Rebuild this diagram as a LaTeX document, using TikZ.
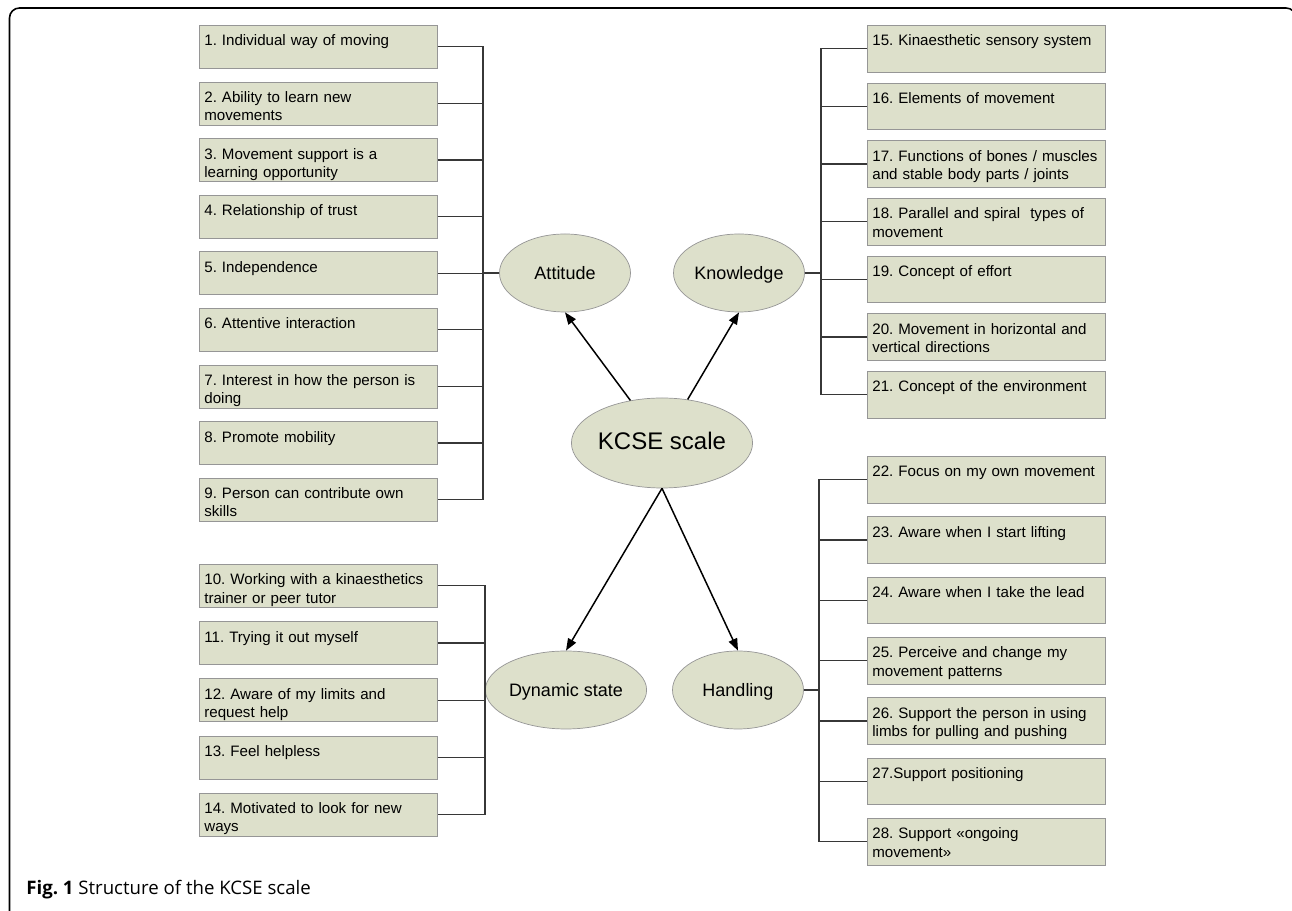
\documentclass[tikz,border=0pt]{standalone}
\usepackage{fontspec}
\setmainfont{Liberation Sans}
\newfontfamily\capfont{Open Sans}
\usetikzlibrary{shapes, arrows.meta, positioning}
\definecolor{boxfill}{RGB}{221, 224, 203}
\definecolor{boxedge}{RGB}{150, 150, 150}
\definecolor{linkgray}{RGB}{55, 55, 55}
\frenchspacing
\hyphenpenalty=10000

\begin{document}
\begin{tikzpicture}[
    item/.style={draw=boxedge, fill=boxfill, anchor=north west,
        text width=4.56cm, align=left, inner xsep=0.1cm, inner ysep=0pt,
        text height=0.41cm, text depth=0.45cm,
        font=\fontsize{8.6}{10.4}\selectfont},
    tallitem/.style={item, text depth=0.525cm},
    group/.style={ellipse, draw=boxedge, fill=boxfill,
        minimum width=2.62cm, minimum height=1.56cm, inner sep=0pt,
        text height=1.6ex, text depth=0.3ex,
        font=\fontsize{10.24}{12}\selectfont},
    link/.style={draw=linkgray, line width=0.7pt},
    >={Triangle[length=0.24cm, width=0.18cm]}
]
    \useasboundingbox (0,0) rectangle (25.84,18.22);
    \clip (0,0) rectangle (25.84,18.22);
    \draw[line width=0.9pt, rounded corners=0.2cm] (0.19,-0.2) rectangle (25.92,18.06);

    % attitude
    \node[item] (b1) at (3.98,17.72) {1. Individual way of moving};
    \node[item] (b2) at (3.98,16.588) {2. Ability to learn new\\movements};
    \node[item] (b3) at (3.98,15.456) {3. Movement support is a\\learning opportunity};
    \node[item] (b4) at (3.98,14.324) {4. Relationship of trust};
    \node[item] (b5) at (3.98,13.192) {5. Independence};
    \node[item] (b6) at (3.98,12.06) {6. Attentive interaction};
    \node[item] (b7) at (3.98,10.928) {7. Interest in how the person is\\doing};
    \node[item] (b8) at (3.98,9.796) {8. Promote mobility};
    \node[item] (b9) at (3.98,8.664) {9. Person can contribute own\\skills};

    % dynamic state
    \node[item] (b10) at (3.98,6.94) {10. Working with a kinaesthetics\\trainer or peer tutor};
    \node[item] (b11) at (3.98,5.796) {11. Trying it out myself};
    \node[item] (b12) at (3.98,4.652) {12. Aware of my limits and\\request help};
    \node[item] (b13) at (3.98,3.508) {13. Feel helpless};
    \node[item] (b14) at (3.98,2.364) {14. Motivated to look for new\\ways};

    % knowledge
    \node[tallitem] (b15) at (17.34,17.72) {15. Kinaesthetic sensory system};
    \node[tallitem] (b16) at (17.34,16.566) {16. Elements of movement};
    \node[tallitem] (b17) at (17.34,15.414) {17. Functions of bones / muscles\\and stable body parts / joints};
    \node[tallitem] (b18) at (17.34,14.26) {18. Parallel and spiral\ \ types of\\movement};
    \node[tallitem] (b19) at (17.34,13.106) {19. Concept of effort};
    \node[tallitem] (b20) at (17.34,11.954) {20. Movement in horizontal and\\vertical directions};
    \node[tallitem] (b21) at (17.34,10.8) {21. Concept of the environment};

    % handling
    \node[tallitem] (b22) at (17.34,9.1) {22. Focus on my own movement};
    \node[tallitem] (b23) at (17.34,7.894) {23. Aware when I start lifting};
    \node[tallitem] (b24) at (17.34,6.686) {24. Aware when I take the lead};
    \node[tallitem] (b25) at (17.34,5.48) {25. Perceive and change my\\movement patterns};
    \node[tallitem] (b26) at (17.34,4.274) {26. Support the person in using\\limbs for pulling and pushing};
    \node[tallitem] (b27) at (17.34,3.066) {27.Support positioning};
    \node[tallitem] (b28) at (17.34,1.86) {28. Support «ongoing\\movement»};

    \node[group] (att) at (11.3,12.76) {Attitude};
    \node[group] (know) at (14.78,12.76) {Knowledge};
    \node[group] (dyn) at (11.32,4.42) {Dynamic state};
    \node[group] (hand) at (14.76,4.42) {Handling};
    \node[group, minimum width=3.02cm, minimum height=1.8cm,
        font=\fontsize{13.66}{16}\selectfont] (kcse) at (13.24,9.36) {KCSE scale};

    \coordinate (lt) at (9.66,0);
    \coordinate (lb) at (9.7,0);
    \coordinate (rt) at (16.42,0);
    \coordinate (rb) at (16.38,0);

    % brackets
    \draw[link] (b1.east) -- (b1.east -| lt) |- (b9.east);
    \draw[link] (b2.east) -- (b2.east -| lt);
    \draw[link] (b3.east) -- (b3.east -| lt);
    \draw[link] (b4.east) -- (b4.east -| lt);
    \draw[link] (b5.east) -- (b5.east -| lt);
    \draw[link] (b6.east) -- (b6.east -| lt);
    \draw[link] (b7.east) -- (b7.east -| lt);
    \draw[link] (b8.east) -- (b8.east -| lt);
    \draw[link] (att.west) -- (att.west -| lt);

    \draw[link] (b10.east) -- (b10.east -| lb) |- (b14.east);
    \draw[link] (b11.east) -- (b11.east -| lb);
    \draw[link] (b12.east) -- (b12.east -| lb);
    \draw[link] (b13.east) -- (b13.east -| lb);
    \draw[link] (dyn.west) -- (dyn.west -| lb);

    \draw[link] (b15.west) -- (b15.west -| rt) |- (b21.west);
    \draw[link] (b16.west) -- (b16.west -| rt);
    \draw[link] (b17.west) -- (b17.west -| rt);
    \draw[link] (b18.west) -- (b18.west -| rt);
    \draw[link] (b19.west) -- (b19.west -| rt);
    \draw[link] (b20.west) -- (b20.west -| rt);
    \draw[link] (know.east) -- (know.east -| rt);

    \draw[link] (b22.west) -- (b22.west -| rb) |- (b28.west);
    \draw[link] (b23.west) -- (b23.west -| rb);
    \draw[link] (b24.west) -- (b24.west -| rb);
    \draw[link] (b25.west) -- (b25.west -| rb);
    \draw[link] (b26.west) -- (b26.west -| rb);
    \draw[link] (b27.west) -- (b27.west -| rb);
    \draw[link] (hand.east) -- (hand.east -| rb);

    % arrows
    \draw[->, line width=0.85pt] (kcse) -- (att.south);
    \draw[->, line width=0.85pt] (kcse) -- (know.south);
    \draw[->, line width=0.85pt] (kcse.south) -- (dyn.north);
    \draw[->, line width=0.85pt] (kcse.south) -- (hand.north);

    \node[anchor=base west, inner sep=0pt, font=\capfont\fontsize{10.6}{12}\selectfont]
        (caption) at (0.52,0.32) {\textbf{Fig. 1} Structure of the KCSE scale};
\end{tikzpicture}
\end{document}
